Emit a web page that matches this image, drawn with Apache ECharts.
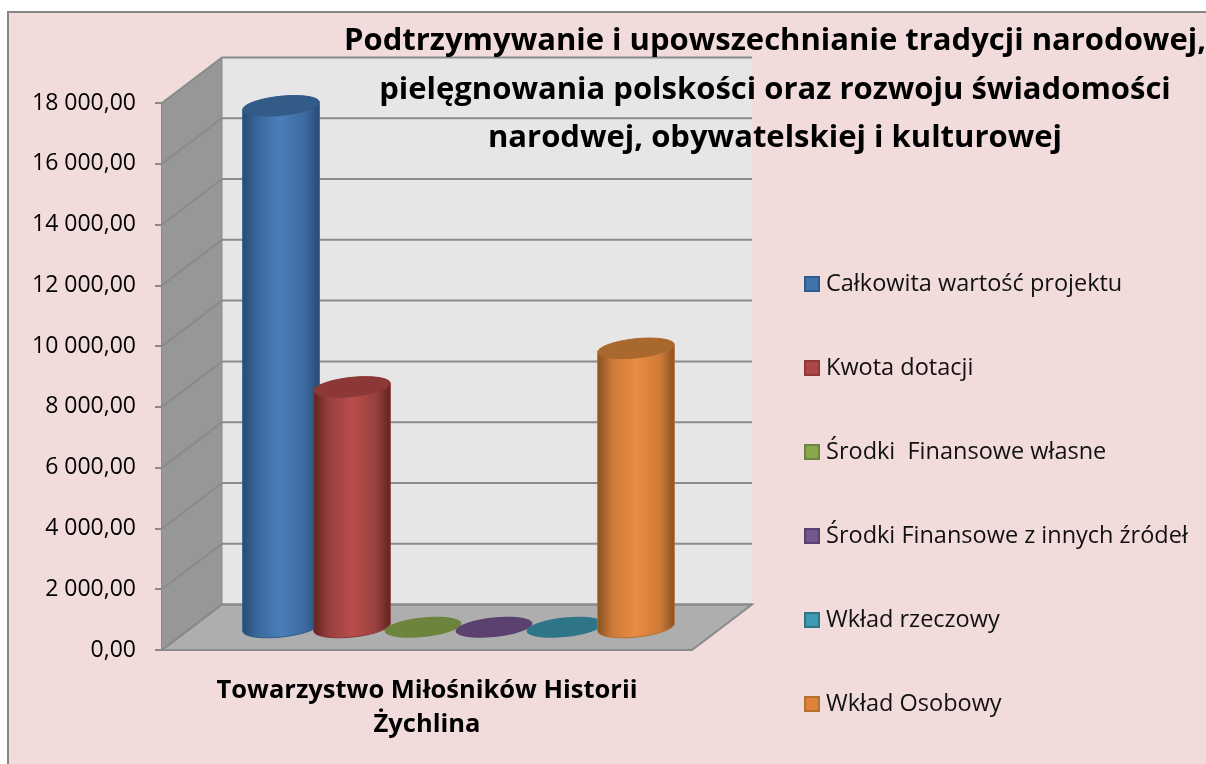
<!DOCTYPE html>
<html>
<head>
<meta charset="utf-8">
<style>html,body{margin:0;padding:0;background:#fff}#c{width:1206px;height:764px}</style>
<script src="https://cdn.jsdelivr.net/npm/echarts@6/dist/echarts.min.js"></script>
</head>
<body>
<div id="c"></div>
<script>
var categories = ['Towarzystwo Miłośników Historii\nŻychlina'];
var seriesNames = ['Całkowita wartość projektu','Kwota dotacji','Środki  Finansowe własne','Środki Finansowe z innych źródeł','Wkład rzeczowy','Wkład Osobowy'];
var totalValues = [17150];
var grantValues = [7900];
var ownValues = [0];
var otherValues = [0];
var inKindValues = [0];
var personalValues = [9170];
var yTicks = [0,2000,4000,6000,8000,10000,12000,14000,16000,18000];
var yTickLabels = ['0,00','2 000,00','4 000,00','6 000,00','8 000,00','10 000,00','12 000,00','14 000,00','16 000,00','18 000,00'];
var titleText = 'Podtrzymywanie i upowszechnianie tradycji narodowej,\npielęgnowania polskości oraz rozwoju świadomości\nnarodwej, obywatelskiej i kulturowej';

var allValues = [totalValues,grantValues,ownValues,otherValues,inKindValues,personalValues];
var palette = [
  {mid:'#4a7ebb',side:'#3b689d',edge:'#274a72',top:'#325b88',line:'#2f5b8e',leg:'#4073aa',legB:'#2f5b8e'},
  {mid:'#b94d4b',side:'#96403e',edge:'#5f2220',top:'#8c3836',line:'#8c3836',leg:'#ab4644',legB:'#8c3836'},
  {mid:'#98b954',side:'#7d9a45',edge:'#4f6228',top:'#6d843c',line:'#6d843c',leg:'#8aa74b',legB:'#6d843c'},
  {mid:'#7d60a0',side:'#664e84',edge:'#3f3151',top:'#5a416f',line:'#5a416f',leg:'#71578f',legB:'#5a416f'},
  {mid:'#46aac5',side:'#398ca3',edge:'#205867',top:'#2f7588',line:'#2f7588',leg:'#3e99b1',legB:'#2f7588'},
  {mid:'#ea8c42',side:'#cd7a38',edge:'#85501f',top:'#a9692e',line:'#b5702f',leg:'#dd843a',legB:'#b5702f'}
];
var DEPTH_X = 60, DEPTH_Y = -45.5, RX = 38.5, RY = 9.8, TILT = -6 * Math.PI / 180, STEP = 71;

function ellipsePts(cx, cy, from, to, n) {
  var pts = [];
  for (var i = 0; i <= n; i++) {
    var t = from + (to - from) * i / n;
    pts.push([
      cx + RX * Math.cos(t) * Math.cos(TILT) - RY * Math.sin(t) * Math.sin(TILT),
      cy + RX * Math.cos(t) * Math.sin(TILT) + RY * Math.sin(t) * Math.cos(TILT)
    ]);
  }
  return pts;
}

function renderBackdrop(params, api) {
  var cs = params.coordSys;
  var x0 = cs.x, x1 = cs.x + cs.width;
  var yZero = api.coord([0, 0])[1];
  var yTop = api.coord([0, yTicks[yTicks.length - 1]])[1];
  var kids = [];
  var lineCol = '#8a8a8a';
  kids.push({type:'polygon', shape:{points:[[x0+DEPTH_X,yTop+DEPTH_Y],[x1+DEPTH_X,yTop+DEPTH_Y],[x1+DEPTH_X,yZero+DEPTH_Y],[x0+DEPTH_X,yZero+DEPTH_Y]]}, style:{fill:'#e6e6e6'}});
  kids.push({type:'polygon', shape:{points:[[x0,yTop],[x0+DEPTH_X,yTop+DEPTH_Y],[x0+DEPTH_X,yZero+DEPTH_Y],[x0,yZero]]}, style:{fill:'#979797'}});
  kids.push({type:'polygon', shape:{points:[[x0,yZero],[x0+DEPTH_X,yZero+DEPTH_Y],[x1+DEPTH_X,yZero+DEPTH_Y],[x1,yZero]]}, style:{fill:'#aeaeae', stroke:lineCol, lineWidth:2}});
  yTicks.forEach(function (v) {
    var y = api.coord([0, v])[1];
    kids.push({type:'polyline', shape:{points:[[x0,y],[x0+DEPTH_X,y+DEPTH_Y],[x1+DEPTH_X,y+DEPTH_Y]]}, style:{fill:'none', stroke:lineCol, lineWidth:2}});
  });
  kids.push({type:'line', shape:{x1:x0+DEPTH_X,y1:yTop+DEPTH_Y,x2:x0+DEPTH_X,y2:yZero+DEPTH_Y}, style:{stroke:lineCol, lineWidth:1}});
  return {type:'group', children:kids, silent:true};
}

function makeRender(idx) {
  return function (params, api) {
    var base = api.coord([api.value(0), 0]);
    var top = api.coord([api.value(0), api.value(1)]);
    var c = palette[idx];
    var cx = base[0] + DEPTH_X / 2 + 1.5 + (idx - 2.5) * STEP;
    var by = base[1] + DEPTH_Y / 2, ty = top[1] + DEPTH_Y / 2;
    var kids = [];
    if (by - ty > 1) {
      var lower = ellipsePts(cx, by, Math.PI, 0, 40);
      var rightTop = ellipsePts(cx, ty, 0, -Math.PI, 40);
      kids.push({type:'polygon', shape:{points:lower.concat(rightTop)},
        style:{stroke:c.line, lineWidth:1, fill:{type:'linear',x:0,y:0,x2:1,y2:0,colorStops:[
          {offset:0,color:c.edge},{offset:0.2,color:c.side},{offset:0.5,color:c.mid},{offset:0.82,color:c.side},{offset:1,color:c.edge}]}}});
    }
    kids.push({type:'polygon', shape:{points:ellipsePts(cx, ty, 0, Math.PI*2, 60)}, style:{fill:c.top}});
    return {type:'group', children:kids};
  };
}

var chart = echarts.init(document.getElementById('c'), null, {renderer:'canvas'});
var series = [{
  type:'custom', name:'__walls', silent:true, z:1, renderItem:renderBackdrop,
  data:[[0,0]], encode:{x:0,y:1}, legendHoverLink:false, tooltip:{show:false}
}];
seriesNames.forEach(function (n, i) {
  series.push({
    type:'custom', name:n, z:2+i, renderItem:makeRender(i),
    data:[[0, allValues[i][0]]], encode:{x:0,y:1},
    itemStyle:{color:palette[i].leg, borderColor:palette[i].legB, borderWidth:1}
  });
});
var FF = '"Open Sans","Noto Sans",sans-serif';
chart.setOption({
  animation:false,
  backgroundColor:'#ffffff',
  graphic:[{type:'rect', z:-10, shape:{x:8,y:12,width:1240,height:800}, style:{fill:'#f2dcdb', stroke:'#878787', lineWidth:2}}],
  title:{text:titleText, left:775, top:17, textAlign:'center', z:20, padding:0,
    textStyle:{fontFamily:FF, fontWeight:'bold', fontSize:31, lineHeight:48.5, color:'#000'}},
  legend:{orient:'vertical', left:804, top:272, padding:0, icon:'rect', itemWidth:14, itemHeight:14, itemGap:60,
    data:seriesNames, selectedMode:false,
    textStyle:{fontFamily:FF, fontSize:23.5, color:'#111', padding:[0,0,0,2]}},
  grid:{left:162, top:103, width:530, height:547, containLabel:false},
  xAxis:{type:'category', data:categories, axisLine:{show:false}, axisTick:{show:false},
    axisLabel:{fontFamily:FF, fontWeight:'bold', fontSize:25.5, lineHeight:34, color:'#000', margin:24}},
  yAxis:{type:'value', min:0, max:18000, interval:2000,
    axisLine:{show:true, lineStyle:{color:'#8a8a8a', width:2}},
    axisTick:{show:true, length:7, lineStyle:{color:'#8a8a8a', width:2}},
    splitLine:{show:false},
    axisLabel:{fontFamily:FF, fontSize:23, color:'#000', margin:26, padding:[10,0,0,0], formatter:function (v) { return yTickLabels[yTicks.indexOf(v)]; }}},
  series:series
});
</script>
</body>
</html>
